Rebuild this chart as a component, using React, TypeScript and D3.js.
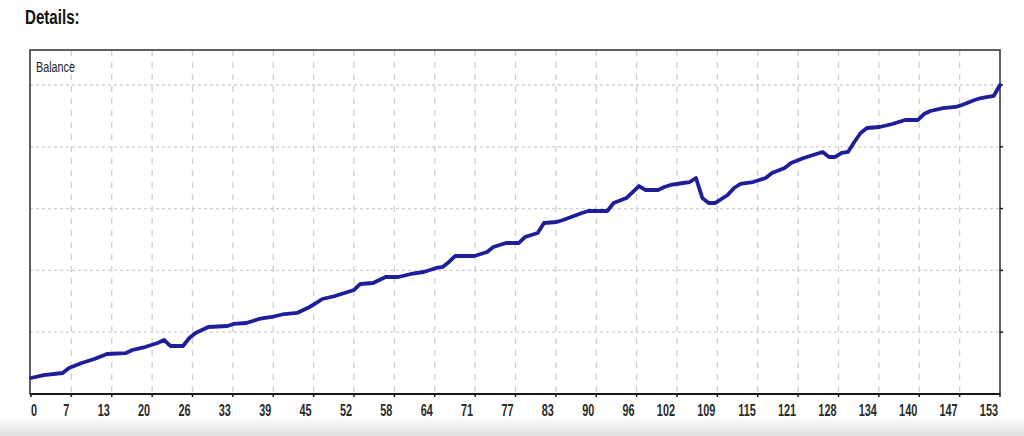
import React from "react";
import * as d3 from "d3";

const tradeIndex = [0, 2, 5, 6, 8, 10, 12, 15, 16, 18, 20, 21, 22, 24, 25, 26, 28, 31, 32, 34, 36, 38, 40, 42, 44, 45, 46, 48, 50, 51, 52, 54, 56, 58, 60, 62, 64, 65, 66, 67, 70, 72, 73, 75, 77, 78, 80, 81, 83, 84, 87, 88, 91, 92, 94, 95, 96, 97, 99, 100, 101, 103, 104, 105, 106, 107, 108, 110, 111, 112, 114, 116, 117, 119, 120, 122, 124, 125, 126, 127, 128, 129, 130, 131, 132, 134, 136, 137, 138, 140, 141, 142, 144, 146, 147, 149, 150, 152, 153];
const balance = [10259, 10307, 10340, 10421, 10502, 10566, 10647, 10663, 10712, 10760, 10825, 10874, 10777, 10777, 10906, 10987, 11084, 11100, 11133, 11149, 11214, 11246, 11294, 11311, 11408, 11472, 11537, 11586, 11650, 11683, 11780, 11796, 11893, 11893, 11942, 11974, 12039, 12055, 12136, 12233, 12233, 12298, 12378, 12443, 12443, 12540, 12605, 12767, 12783, 12815, 12929, 12961, 12961, 13090, 13171, 13268, 13365, 13301, 13301, 13349, 13382, 13414, 13430, 13495, 13171, 13090, 13090, 13220, 13333, 13398, 13430, 13495, 13576, 13657, 13738, 13818, 13883, 13916, 13835, 13835, 13900, 13916, 14077, 14223, 14304, 14320, 14369, 14401, 14433, 14433, 14530, 14579, 14627, 14644, 14676, 14757, 14789, 14822, 15000];

const xTickLabels = ["0", "7", "13", "20", "26", "33", "39", "45", "52", "58", "64", "71", "77", "83", "90", "96", "102", "109", "115", "121", "128", "134", "140", "147", "153"];
const yGridValues = [11000, 12000, 13000, 14000, 15000];

const W = 1024;
const H = 436;
const left = 30;
const right = 1000;
const top = 50;
const bottom = 394;

export default function App() {
  const maxIndex = 153;
  const x = d3.scaleLinear().domain([0, maxIndex]).range([31, right]);
  const y = d3.scaleLinear().domain([10000, 10000 + (bottom - top) * 16.18]).range([bottom, top]);
  const nGrid = xTickLabels.length - 1;
  const gridX = xTickLabels.map((_, k) => x((k * maxIndex) / nGrid));
  const pts: [number, number][] = tradeIndex.map((t, i) => [t, balance[i]]);
  const line = d3
    .line<[number, number]>()
    .x((d) => x(d[0]))
    .y((d) => y(d[1]))
    .curve(d3.curveLinear);

  return (
    <svg width={W} height={H} style={{ position: "absolute", left: 0, top: 0, background: "#fff" }}>
      <defs>
        <linearGradient id="bot" x1="0" y1="0" x2="0" y2="1">
          <stop offset="0" stopColor="#ffffff" />
          <stop offset="1" stopColor="#dedede" />
        </linearGradient>
      </defs>
      <rect x={0} y={0} width={W} height={H} fill="#fff" />
      <rect x={0} y={416} width={W} height={20} fill="url(#bot)" />
      <text
        transform="translate(25,24) scale(0.72,1)"
        fontFamily="'Liberation Sans', Arial, sans-serif"
        fontWeight="bold"
        fontSize={21}
        fill="#111"
      >
        Details:
      </text>
      {gridX.slice(1, -1).map((gx, i) => (
        <line key={"vg" + i} x1={gx} x2={gx} y1={top} y2={bottom} stroke="#cfcfcf" strokeWidth={1.3} strokeDasharray="6,6" />
      ))}
      {yGridValues.map((v, i) => (
        <line key={"hg" + i} x1={left} x2={right} y1={y(v)} y2={y(v)} stroke="#cfcfcf" strokeWidth={1.3} strokeDasharray="3,3" />
      ))}
      <rect x={left} y={top} width={right - left} height={bottom - top} fill="none" stroke="#3a3a3a" strokeWidth={1.6} />
      <line x1={left} x2={right} y1={bottom} y2={bottom} stroke="#1a1a1a" strokeWidth={2} />
      {gridX.map((gx, i) => (
        <line key={"tk" + i} x1={gx} x2={gx} y1={bottom} y2={bottom + 3} stroke="#1a1a1a" strokeWidth={1.5} />
      ))}
      {yGridValues.map((v, i) => (
        <line key={"rt" + i} x1={right} x2={right + 3} y1={y(v)} y2={y(v)} stroke="#1a1a1a" strokeWidth={1.5} />
      ))}
      <text
        transform="translate(36,72) scale(0.72,1)"
        fontFamily="'Liberation Sans', Arial, sans-serif"
        fontSize={15}
        fill="#222"
      >
        Balance
      </text>
      <path d={line(pts) || ""} fill="none" stroke="#1e1e9a" strokeWidth={3.8} strokeLinejoin="round" strokeLinecap="round" />
      {xTickLabels.map((lab, i) => {
        const gx = gridX[i];
        const isFirst = i === 0;
        return (
          <text
            key={"xl" + i}
            transform={`translate(${isFirst ? 31 : gx - 2},416) scale(0.64,1)`}
            textAnchor={isFirst ? "start" : "end"}
            fontFamily="'Liberation Sans', Arial, sans-serif"
            fontWeight="bold"
            fontSize={17}
            fill="#2a2a2a"
          >
            {lab}
          </text>
        );
      })}
    </svg>
  );
}
